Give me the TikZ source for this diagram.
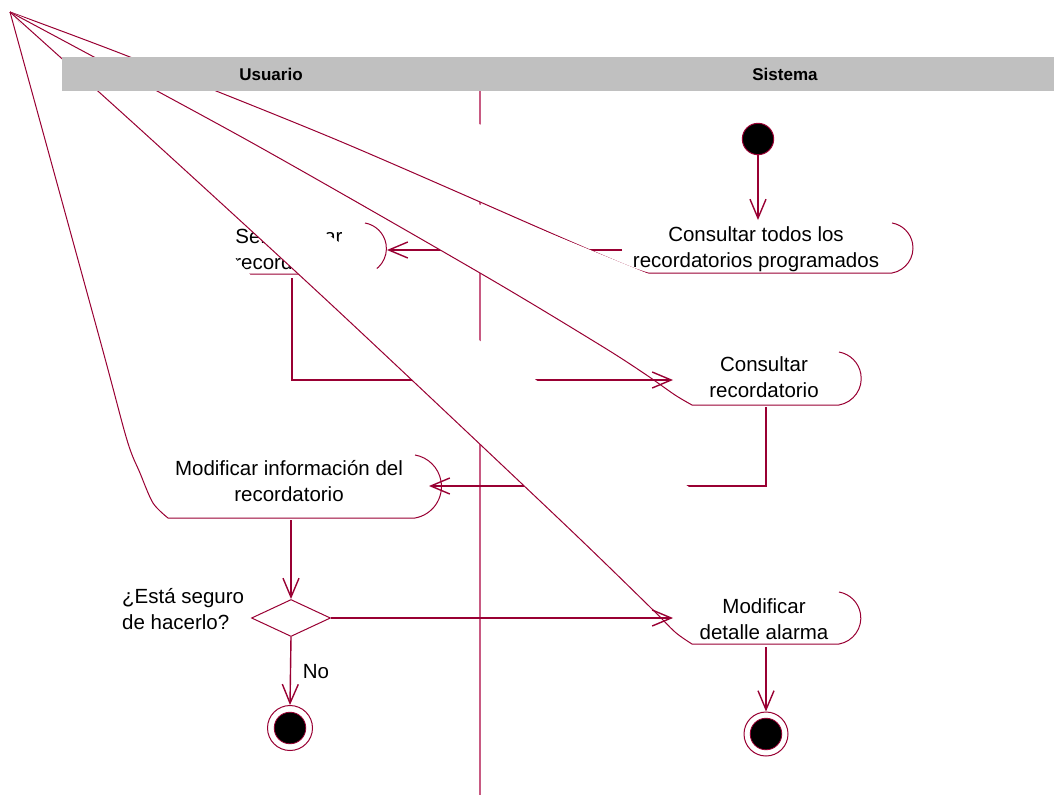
\documentclass[tikz,border=0pt]{standalone}
\usepackage{fontspec}
\setmainfont{Liberation Sans}
\usetikzlibrary{arrows.meta,shapes.geometric}
\definecolor{rose}{RGB}{153,0,51}
\definecolor{lanec}{RGB}{200,90,130}
\definecolor{hdr}{RGB}{192,192,192}
\newcommand{\rsact}[3]{%
  \fill[white] plot[smooth,tension=.5] coordinates {#1} -- #2 arc[start angle=80,end angle=-80,radius=#3] -- cycle;
  \draw[shp] plot[smooth,tension=.5] coordinates {#1} -- #2 arc[start angle=80,end angle=-80,radius=#3];}
\begin{document}
\begin{tikzpicture}[x=1pt,y=-1pt,
  shp/.style={draw=rose,line width=1pt},
  conn/.style={draw=rose,line width=1.4pt,-{Straight Barb[length=19pt,width=16pt]}},
  lbl/.style={font=\fontsize{20.5}{25.5}\selectfont,align=center,inner sep=0pt,text=black},
  hlbl/.style={font=\fontsize{17}{20}\selectfont\bfseries,inner sep=0pt,text=black},
  finalst/.style={circle,draw=rose,fill=white,line width=1pt,minimum size=45pt,inner sep=0pt,
    path picture={\filldraw[fill=black,draw=rose,line width=0.8pt] (path picture bounding box.center) circle (15.8pt);}}]
\useasboundingbox (0,0) rectangle (1054,795);
% lane divider
\draw[lanec,line width=1.2pt] (480,91) -- (480,795);
% A1
\rsact{(10,12) (130,57) (337,140) (560,237) (628,266) (648,273)}{(892,273)}{25.4}
\node[lbl] (t1) at (756,249) {Consultar todos los\\recordatorios programados};
\node[circle,fill=black,draw=rose,line width=1pt,minimum size=31.4pt,inner sep=0pt] (start) at (758,139) {};
\coordinate (a1n) at (758,220);
\draw[conn] (start.south) -- (a1n);
% A2
\rsact{(10,12) (200,240) (225,267) (240,274)}{(365,274)}{25.9}
\node[lbl] (t2) at (289,249) {Seleccionar\\recordatorio};
\coordinate (a1w) at (622,250);
\coordinate (a2e) at (387,250);
\draw[conn] (a1w) -- (a2e);
% A3
\rsact{(10,12) (247,140) (480,273) (600,345) (645,374) (675,395) (692,405)}{(839,405)}{26.9}
\node[lbl] (t3) at (764,377) {Consultar\\recordatorio};
% A4
\rsact{(10,12) (100,340) (127,440) (140,473) (153,503) (168,518)}{(415,518)}{32}
\node[lbl] (t4) at (289,481) {Modificar información del\\recordatorio};
\coordinate (a2s) at (292,278);
\coordinate (a3w) at (673,380);
\draw[conn] (a2s) |- (a3w);
\coordinate (a3s) at (766,407);
\coordinate (a4e) at (429,486);
\draw[conn] (a3s) |- (a4e);
% decision
\node[diamond,draw=rose,fill=white,line width=1pt,minimum width=79pt,minimum height=37pt,inner sep=0pt,shape aspect=2.1] (dec) at (291,618) {};
\coordinate (a4s) at (291,520);
\draw[conn] (a4s) -- (dec.north);
\node[lbl,anchor=west,align=left] (q) at (122,609) {¿Está seguro\\de hacerlo?};
% A5
\rsact{(10,12) (152,140) (335,308) (558,518) (650,607) (675,632) (692,644)}{(839,644)}{26.4}
\node[lbl] (t5) at (764,619) {Modificar\\detalle alarma};
\coordinate (a5w) at (673,618);
\draw[conn] (dec.east) -- (a5w);
\node[finalst] (f1) at (290,728) {};
\node[finalst,minimum size=44pt] (f2) at (766,734) {};
\draw[conn] (dec.south) -- (f1.north);
\node[lbl] (no) at (316,672) {No};
\coordinate (a5s) at (766,647);
\draw[conn] (a5s) -- (f2.north);
% header
\fill[hdr] (62,57) rectangle (1054,91);
\node[hlbl] (u) at (271,74) {Usuario};
\node[hlbl] (s) at (785,74) {Sistema};
\end{tikzpicture}
\end{document}
